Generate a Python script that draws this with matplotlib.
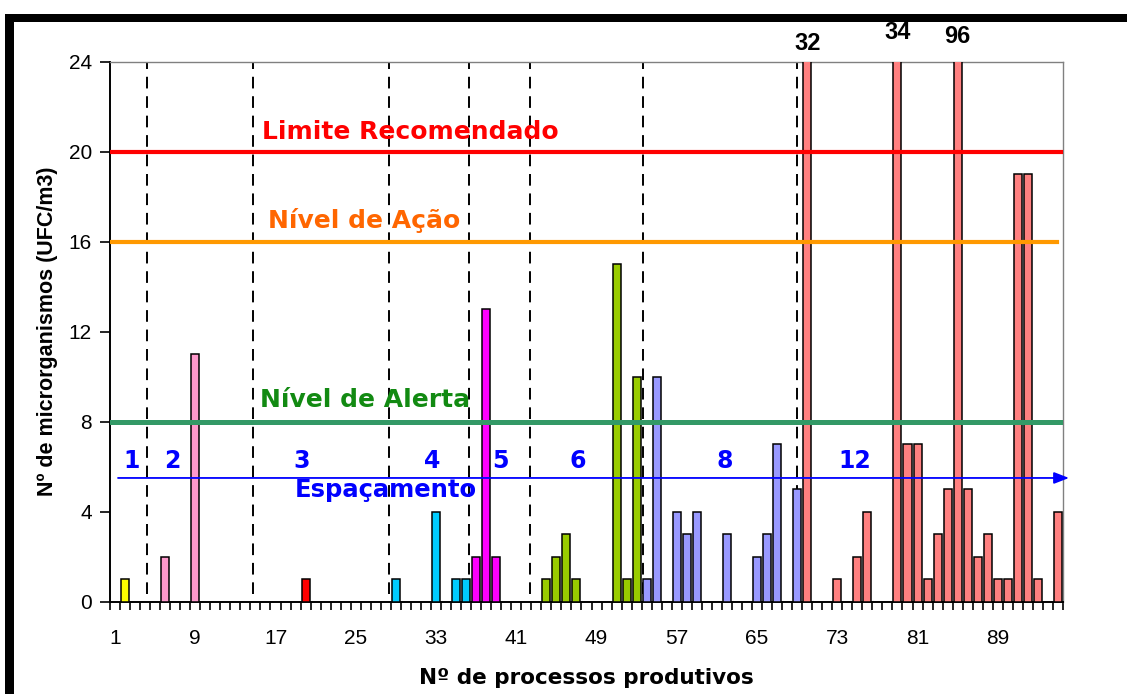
import matplotlib
matplotlib.use("Agg")
import matplotlib.pyplot as plt
from matplotlib.patches import Rectangle
import numpy as np

plt.rcParams['font.family'] = ['Liberation Sans', 'DejaVu Sans']

# ---------------- data ----------------
n_categories = 95
bar_pos = [2, 6, 9, 20, 29, 33, 35, 36, 37, 38, 39, 44, 45, 46, 47, 51, 52, 53,
           54, 55, 57, 58, 59, 62, 65, 66, 67, 69, 70, 73, 75, 76, 79, 80, 81,
           82, 83, 84, 85, 86, 87, 88, 89, 90, 91, 92, 93, 95]
bar_val = [1, 2, 11, 1, 1, 4, 1, 1, 2, 13, 2, 1, 2, 3, 1, 15, 1, 10,
           1, 10, 4, 3, 4, 3, 2, 3, 7, 5, 32, 1, 2, 4, 34, 7, 7,
           1, 3, 5, 96, 5, 2, 3, 1, 1, 19, 19, 1, 4]
bar_group = [0, 1, 1, 2, 3, 3, 3, 3, 4, 4, 4, 5, 5, 5, 5, 5, 5, 5,
             6, 6, 6, 6, 6, 6, 6, 6, 6, 6, 7, 7, 7, 7, 7, 7, 7,
             7, 7, 7, 7, 7, 7, 7, 7, 7, 7, 7, 7, 7]
group_colors = ['#FFFF00', '#FF99CC', '#FF0000', '#00CCFF', '#FF00FF',
                '#99CC00', '#9999FF', '#FF8080']

xtick_labels = [1, 9, 17, 25, 33, 41, 49, 57, 65, 73, 81, 89]
ytick_values = [0, 4, 8, 12, 16, 20, 24]

limit_recommended = 20
action_level = 16
alert_level = 8
spacing_arrow_y = 5.5

division_lines_x = [4.2, 14.75, 28.35, 36.3, 42.4, 53.6, 69.0]
spacing_labels = ['1', '2', '3', '4', '5', '6', '8', '12']
spacing_labels_x = [2.66, 6.71, 19.64, 32.57, 39.38, 47.13, 61.82, 74.78]

overflow_cats = [70, 79, 85]
overflow_text = ['32', '34', '96']
overflow_offset = [13.5, 21.0, 18.0]  # points above axes top

WIDE = ['DejaVu Sans']

# ---------------- figure ----------------
fig = plt.figure(figsize=(11.27, 6.94), dpi=100)
fig.patch.set_facecolor('white')
ax = fig.add_axes([0.0976, 0.133, 0.8456, 0.778])

colors = [group_colors[g] for g in bar_group]
ax.bar(bar_pos, bar_val, width=0.8, color=colors, edgecolor='black',
       linewidth=1.1, zorder=3)

ax.set_xlim(0.5, n_categories + 0.5)
ax.set_ylim(0, 24)

# horizontal reference lines
ax.axhline(limit_recommended, color='#FF0000', lw=3.0, zorder=4)
ax.plot([0.5, 94.9], [action_level] * 2, color='#FF9900', lw=3.0, zorder=4)
ax.axhline(alert_level, color='#339966', lw=3.6, zorder=4)

# dashed division lines
for xv in division_lines_x:
    ax.plot([xv, xv], [0.35, 24], color='black', lw=1.4,
            dashes=(6, 4), zorder=2)

# spacing arrow
ax.annotate('', xy=(96.1, spacing_arrow_y), xytext=(1.3, spacing_arrow_y),
            xycoords='data', textcoords='data', annotation_clip=False,
            arrowprops=dict(arrowstyle='-|>,head_length=0.9,head_width=0.35',
                            color='#0000FF', lw=1.3, shrinkA=0, shrinkB=0),
            zorder=5)

# texts
ax.text(15.65, 20.9, 'Limite Recomendado', color='#FF0000', fontsize=18,
        fontweight='bold', family=WIDE, ha='left', va='center', zorder=6)
ax.text(16.25, 16.96, 'Nível de Ação', color='#FF6600', fontsize=18,
        fontweight='bold', family=WIDE, ha='left', va='center', zorder=6)
ax.text(15.45, 8.96, 'Nível de Alerta', color='#128A12', fontsize=18,
        fontweight='bold', family=WIDE, ha='left', va='center', zorder=6)
ax.text(18.94, 4.96, 'Espaçamento', color='#0000FF', fontsize=17.5,
        fontweight='bold', family=WIDE, ha='left', va='center', zorder=6)
for lab, xv in zip(spacing_labels, spacing_labels_x):
    ax.text(xv, 6.25, lab, color='#0000FF', fontsize=17, fontweight='bold',
            family=WIDE, ha='center', va='center', zorder=6)

for c, t, off in zip(overflow_cats, overflow_text, overflow_offset):
    ax.annotate(t, xy=(c, 24), xytext=(0, off), textcoords='offset points',
                ha='center', va='center', fontsize=17, fontweight='bold',
                color='black', annotation_clip=False)

# ticks
ax.set_xticks(xtick_labels)
ax.set_xticklabels([str(v) for v in xtick_labels], fontsize=15)
ax.tick_params(axis='x', which='major', length=0, pad=20)
ax.set_xticks(np.arange(0.5, n_categories + 1.0, 1.0), minor=True)
ax.tick_params(axis='x', which='minor', length=6, width=1.2,
               direction='out', color='black')
ax.set_yticks(ytick_values)
ax.set_yticklabels([str(v) for v in ytick_values], fontsize=15)
ax.tick_params(axis='y', which='major', length=7, width=1.2,
               direction='out', color='black', pad=6)

ax.set_xlabel('Nº de processos produtivos', fontsize=15.5, fontweight='bold',
              family=WIDE, labelpad=14)
ax.set_ylabel('Nº de microrganismos (UFC/m3)', fontsize=15.5,
              fontweight='bold', labelpad=8)

for side in ['left', 'bottom']:
    ax.spines[side].set_color('black')
    ax.spines[side].set_linewidth(1.4)
for side in ['top', 'right']:
    ax.spines[side].set_color('#808080')
    ax.spines[side].set_linewidth(1.0)

# thick black frame at top and left of the picture
fig.add_artist(Rectangle((5 / 1127, 1 - 22 / 694), 1 - 5 / 1127, 8 / 694,
                         transform=fig.transFigure, color='black', lw=0))
fig.add_artist(Rectangle((5 / 1127, 0), 9 / 1127, 1 - 14 / 694,
                         transform=fig.transFigure, color='black', lw=0))

fig.savefig('out.png', dpi=100, facecolor='white')
